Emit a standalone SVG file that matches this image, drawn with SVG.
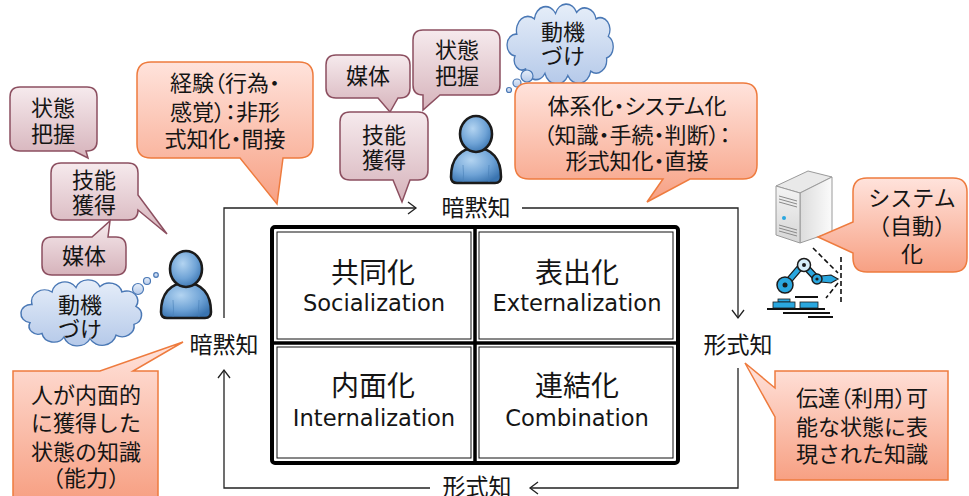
<svg xmlns="http://www.w3.org/2000/svg" width="969" height="496" viewBox="0 0 969 496">
  <style>
    .ja { font-family: 'Noto Sans CJK JP', 'Noto Sans CJK SC', sans-serif; fill: #151515; text-anchor: middle; }
    .co { font-size: 22px; }
    .pt { font-feature-settings: "palt"; }
    .lbl { font-size: 23px; }
    .cellj { font-size: 28px; }
    .celle { font-family: 'DejaVu Sans', 'Noto Sans CJK JP', sans-serif; font-size: 22.6px; fill: #151515; text-anchor: middle; }
    .mauve { fill: url(#gMauve); stroke: #8c4f60; stroke-width: 1.5; }
    .salmon { fill: url(#gSalmon); stroke: #ee7b3e; stroke-width: 1.5; }
    .cloud { fill: url(#gCloud); stroke: #4a78b5; stroke-width: 1.5; }
    .bub { fill: url(#gCloud); stroke: #4a78b5; stroke-width: 1.2; }
    .loop { fill: none; stroke: #222; stroke-width: 1.3; }
    .head { fill: none; stroke: #222; stroke-width: 1.3; }
    .thin { fill: none; stroke: #111; stroke-width: 1; }
    .thick { fill: none; stroke: #000; }
  </style>
  <defs>
    <linearGradient id="gMauve" x1="0" y1="0" x2="0" y2="1">
      <stop offset="0" stop-color="#f6eaed"/>
      <stop offset="1" stop-color="#d6b3bb"/>
    </linearGradient>
    <linearGradient id="gSalmon" x1="0" y1="0" x2="0" y2="1">
      <stop offset="0" stop-color="#ffe3dc"/>
      <stop offset="1" stop-color="#f7a083"/>
    </linearGradient>
    <linearGradient id="gCloud" x1="0" y1="0" x2="0" y2="1">
      <stop offset="0" stop-color="#e6eef9"/>
      <stop offset="1" stop-color="#b5c9e9"/>
    </linearGradient>
    <radialGradient id="gPerson" cx="0.4" cy="0.35" r="0.7">
      <stop offset="0" stop-color="#b3d4f1"/>
      <stop offset="0.6" stop-color="#6fa3d6"/>
      <stop offset="1" stop-color="#3a74b0"/>
    </radialGradient>
    <linearGradient id="gSide" x1="0" y1="0" x2="1" y2="0">
      <stop offset="0" stop-color="#dcdcdc"/>
      <stop offset="1" stop-color="#fbfbfb"/>
    </linearGradient>
    <linearGradient id="gFront" x1="0" y1="0" x2="0" y2="1">
      <stop offset="0" stop-color="#f4f4f4"/>
      <stop offset="1" stop-color="#d6d6d6"/>
    </linearGradient>
    <!-- cloud outline in a 0..120 x 0..66 box -->
    <path id="cloudShape" d="M8,44 A9,9 0 0 1 10,24 A13,13 0 0 1 30,10 A13,13 0 0 1 54,5 A13,13 0 0 1 78,4 A13,13 0 0 1 100,10 A11,11 0 0 1 114,26 A11,11 0 0 1 112,46 A12,12 0 0 1 94,58 A14,14 0 0 1 68,62 A14,14 0 0 1 42,60 A12,12 0 0 1 20,56 A9,9 0 0 1 8,44 Z"/>
    <!-- user figure in a 56 x 70 box -->
    <g id="person">
      <path d="M3,62 C3,44 12,33 28,33 C44,33 53,44 53,62 Q53,68 47,68 L9,68 Q3,68 3,62 Z" fill="url(#gPerson)" stroke="#1b1b1b" stroke-width="2.6"/>
      <path d="M15,50 Q16,60 15,67 M41,50 Q40,60 41,67" fill="none" stroke="#4a80b8" stroke-width="1" opacity="0.6"/>
      <ellipse cx="28" cy="19" rx="16" ry="18" fill="url(#gPerson)" stroke="#1b1b1b" stroke-width="2.6"/>
    </g>
  </defs>

  <rect width="969" height="496" fill="#ffffff"/>

  <!-- knowledge conversion loop -->
  <g id="connectors">
    <polyline class="loop" points="224,318 224,208 416,208"/>
    <polyline class="head" points="408,202 416,208 408,214"/>
    <polyline class="loop" points="522,208 738,208 738,318"/>
    <polyline class="head" points="732,310 738,318 744,310"/>
    <polyline class="loop" points="738,368 738,488 530,488"/>
    <polyline class="head" points="538,482 530,488 538,494"/>
    <polyline class="loop" points="430,488 224,488 224,370"/>
    <polyline class="head" points="218,378 224,370 230,378"/>
  </g>

  <g id="label-tacit-top"><text class="ja lbl" x="476" y="216">暗黙知</text></g>
  <g id="label-tacit-left"><text class="ja lbl" x="224" y="353">暗黙知</text></g>
  <g id="label-explicit-right"><text class="ja lbl" x="738" y="353">形式知</text></g>
  <g id="label-explicit-bottom"><text class="ja lbl" x="477" y="495">形式知</text></g>

  <!-- SECI matrix -->
  <g id="matrix">
    <rect class="thick" x="272" y="227" width="406" height="236" rx="3" stroke-width="4"/>
    <line class="thick" x1="475" y1="227" x2="475" y2="463" stroke-width="3.5"/>
    <line class="thick" x1="272" y1="343" x2="678" y2="343" stroke-width="3.5"/>
    <g id="socialization">
      <rect class="thin" x="277" y="232" width="194" height="107"/>
      <text class="ja cellj" x="373" y="283">共同化</text>
      <text class="celle" x="374" y="311">Socialization</text>
    </g>
    <g id="externalization">
      <rect class="thin" x="479" y="232" width="194" height="107"/>
      <text class="ja cellj" x="577" y="283">表出化</text>
      <text class="celle" x="577" y="311">Externalization</text>
    </g>
    <g id="internalization">
      <rect class="thin" x="277" y="347" width="194" height="111"/>
      <text class="ja cellj" x="373" y="396">内面化</text>
      <text class="celle" x="374" y="426">Internalization</text>
    </g>
    <g id="combination">
      <rect class="thin" x="479" y="347" width="194" height="111"/>
      <text class="ja cellj" x="577" y="396">連結化</text>
      <text class="celle" x="577" y="426">Combination</text>
    </g>
  </g>

  <!-- left person and its callouts -->
  <g id="person-left"><use href="#person" x="158" y="250"/></g>

  <g id="callout-left-state">
    <path class="mauve" d="M20,87 H87 Q97,87 97,97 V141 Q97,151 87,151 H86 L88,158 L74,151 H20 Q10,151 10,141 V97 Q10,87 20,87 Z"/>
    <text class="ja co" x="53" y="116">状態<tspan x="53" dy="26">把握</tspan></text>
  </g>
  <g id="callout-left-skill">
    <path class="mauve" d="M61,163 H128 Q138,163 138,173 V195 L167,234 L138,210 Q138,220 128,220 H61 Q51,220 51,210 V173 Q51,163 61,163 Z"/>
    <text class="ja co" x="94" y="188">技能<tspan x="94" dy="25">獲得</tspan></text>
  </g>
  <g id="callout-left-media">
    <path class="mauve" d="M52,237 H92 L110,221 L108,237 H116 Q126,237 126,247 V265 Q126,275 116,275 H52 Q42,275 42,265 V247 Q42,237 52,237 Z"/>
    <text class="ja co" x="84" y="264">媒体</text>
  </g>
  <g id="cloud-left">
    <use href="#cloudShape" class="cloud" transform="translate(22,283) scale(1.0,0.9)" vector-effect="non-scaling-stroke"/>
    <circle class="bub" cx="138" cy="289" r="5.5"/>
    <circle class="bub" cx="147" cy="281" r="3.5"/>
    <circle class="bub" cx="156" cy="275" r="2.3"/>
    <text class="ja co" x="80" y="313">動機<tspan x="80" dy="24">づけ</tspan></text>
  </g>

  <g id="callout-experience">
    <path class="salmon" d="M151,62 H299 Q313,62 313,76 V144 Q313,158 299,158 H283 L277,204 L240,158 H151 Q137,158 137,144 V76 Q137,62 151,62 Z"/>
    <text class="ja co pt" x="225" y="91">経験（行為・<tspan x="225" dy="29">感覚）：非形</tspan><tspan x="225" dy="27">式知化・間接</tspan></text>
  </g>

  <!-- upper person and its callouts -->
  <g id="person-top"><use href="#person" x="448" y="115"/></g>

  <g id="callout-top-media">
    <path class="mauve" d="M336,55 H400 Q410,55 410,65 V88 Q410,98 400,98 H398 L390,112 L378,98 H336 Q326,98 326,88 V65 Q326,55 336,55 Z"/>
    <text class="ja co" x="368" y="84">媒体</text>
  </g>
  <g id="callout-top-state">
    <path class="mauve" d="M423,30 H490 Q500,30 500,40 V85 Q500,95 490,95 H440 L423,110 L423,95 Q413,95 413,85 V40 Q413,30 423,30 Z"/>
    <text class="ja co" x="457" y="58">状態<tspan x="457" dy="26">把握</tspan></text>
  </g>
  <g id="callout-top-skill">
    <path class="mauve" d="M350,112 H418 Q428,112 428,122 V170 Q428,180 418,180 H410 L402,202 L393,180 H350 Q340,180 340,170 V122 Q340,112 350,112 Z"/>
    <text class="ja co" x="384" y="143">技能<tspan x="384" dy="25">獲得</tspan></text>
  </g>
  <g id="cloud-top">
    <use href="#cloudShape" class="cloud" transform="translate(508,8) scale(0.88,1.09)" vector-effect="non-scaling-stroke"/>
    <circle class="bub" cx="527" cy="76" r="6"/>
    <circle class="bub" cx="517" cy="83" r="4"/>
    <circle class="bub" cx="509" cy="90" r="2.5"/>
    <text class="ja co" x="563" y="40">動機<tspan x="563" dy="24">づけ</tspan></text>
  </g>

  <g id="callout-systematize">
    <path class="salmon" d="M529,83 H743 Q757,83 757,97 V165 Q757,179 743,179 H690 L647,202 L663,179 H529 Q515,179 515,165 V97 Q515,83 529,83 Z"/>
    <text class="ja co pt" x="637" y="114">体系化・システム化<tspan x="637" dy="29">（知識・手続・判断）：</tspan><tspan x="637" dy="26">形式知化・直接</tspan></text>
  </g>

  <!-- server and robot -->
  <g id="server">
    <polygon points="776,186 808,171 832,177 800,193" fill="#e9e9e9" stroke="#9a9a9a" stroke-width="1" stroke-linejoin="round"/>
    <polygon points="800,193 832,177 832,232 800,243" fill="url(#gSide)" stroke="#9a9a9a" stroke-width="1" stroke-linejoin="round"/>
    <polygon points="776,186 800,193 800,243 776,235" fill="url(#gFront)" stroke="#9a9a9a" stroke-width="1" stroke-linejoin="round"/>
    <g stroke="#8a8a8a" stroke-width="1">
      <line x1="779" y1="196" x2="797" y2="201"/>
      <line x1="779" y1="199" x2="797" y2="204"/>
      <line x1="779" y1="202" x2="797" y2="207"/>
      <line x1="779" y1="225" x2="797" y2="230"/>
      <line x1="779" y1="228" x2="797" y2="233"/>
      <line x1="779" y1="231" x2="797" y2="236"/>
    </g>
    <circle cx="784" cy="218" r="2" fill="#2aa7df"/>
  </g>
  <g id="robot">
    <g stroke="#111" stroke-width="2" stroke-linecap="butt">
      <line x1="795" y1="297" x2="818" y2="297"/>
      <line x1="767" y1="309" x2="825" y2="309"/>
      <line x1="783" y1="313" x2="830" y2="313"/>
      <line x1="808" y1="317" x2="833" y2="317"/>
    </g>
    <g fill="#2aa7df" stroke="#1b1b1b" stroke-width="0.8">
      <rect x="778" y="299" width="12" height="3"/>
      <rect x="773" y="302" width="22" height="6"/>
      <rect x="800" y="302" width="18" height="6"/>
    </g>
    <path d="M785,285 L803,264 M804,265 L817,279" stroke="#1b1b1b" stroke-width="7" stroke-linecap="round"/>
    <path d="M785,285 L803,264 M804,265 L817,279" stroke="#2aa7df" stroke-width="4.5" stroke-linecap="round"/>
    <circle cx="785" cy="285" r="8" fill="#2aa7df" stroke="#1b1b1b" stroke-width="1.5"/>
    <circle cx="785" cy="285" r="2.5" fill="#1b1b1b"/>
    <circle cx="804" cy="265" r="6.5" fill="#d6eef9" stroke="#1b1b1b" stroke-width="1.5"/>
    <circle cx="804" cy="265" r="2" fill="#1b1b1b"/>
    <path d="M821,276 L831,275 L838,279 L831,283 L821,282 Z" fill="#2aa7df" stroke="#1b1b1b" stroke-width="1.2"/>
    <circle cx="817" cy="279" r="5" fill="#2aa7df" stroke="#1b1b1b" stroke-width="1.5"/>
    <circle cx="817" cy="279" r="1.6" fill="#1b1b1b"/>
    <g stroke="#111" stroke-width="1.6" stroke-dasharray="5,3" fill="none">
      <line x1="841" y1="257" x2="841" y2="305"/>
      <line x1="813" y1="248" x2="838" y2="273"/>
      <line x1="838" y1="283" x2="826" y2="298"/>
    </g>
  </g>

  <g id="callout-system">
    <path class="salmon" d="M867,178 H953 Q967,178 967,192 V258 Q967,272 953,272 H867 Q853,272 853,258 V253 L818,237 L853,222 V192 Q853,178 867,178 Z"/>
    <text class="ja co" x="912" y="206">システム<tspan x="912" dy="28">（自動）</tspan><tspan x="912" dy="28">化</tspan></text>
  </g>

  <g id="callout-tacit-def">
    <path class="salmon" d="M13,371 H100 L183,342 L133,371 H158 V500 H13 Z"/>
    <text class="ja co" x="86" y="403">人が内面的<tspan x="86" dy="28">に獲得した</tspan><tspan x="86" dy="29">状態の知識</tspan><tspan x="86" dy="26">（能力）</tspan></text>
  </g>

  <g id="callout-explicit-def">
    <path class="salmon" d="M775,371 H948 V480 H775 V417 L745,363 L775,388 Z"/>
    <text class="ja co" x="862" y="406"><tspan class="pt">伝達（利用）可</tspan><tspan x="862" dy="29">能な状態に表</tspan><tspan x="862" dy="27">現された知識</tspan></text>
  </g>
</svg>
